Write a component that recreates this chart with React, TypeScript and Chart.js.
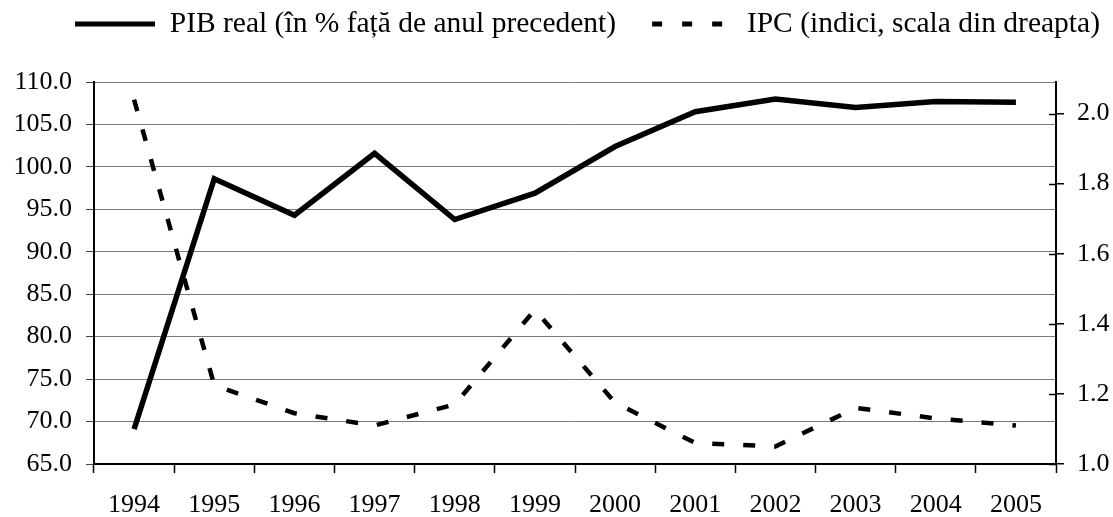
import React, { useEffect, useRef } from 'react';
import { Chart, registerables } from 'chart.js';

Chart.register(...registerables);

const years = ['1994', '1995', '1996', '1997', '1998', '1999', '2000', '2001', '2002', '2003', '2004', '2005'];
const pibReal = [69.1, 98.6, 94.3, 101.6, 93.8, 96.9, 102.4, 106.5, 108.0, 107.0, 107.7, 107.6];
const ipc = [2.04, 1.225, 1.145, 1.11, 1.17, 1.44, 1.175, 1.06, 1.05, 1.16, 1.13, 1.11];
const pibLabel = 'PIB real (în % față de anul precedent)';
const ipcLabel = 'IPC (indici, scala din dreapta)';
const leftAxisRange = [65, 110, 5];
const rightAxisRange = [1.0, 2.09, 0.2];
const rightAxisLastTick = 2.0;

const FONT = "'Liberation Serif', 'Times New Roman', serif";
const W = 1113;
const H = 517;
const LEGEND_FONT = 29.5;
const PLOT_TOP = 82;

const legendShift = {
  id: 'legendShift',
  afterLayout(chart: any) {
    const lg = chart.legend;
    if (!lg) return;
    const pad = lg.options.labels.padding;
    lg.left = 75 - pad;
    lg.right = lg.left + lg.width;
    lg.top = 24 - LEGEND_FONT / 2 - pad;
    lg.bottom = lg.top + lg.height;
  },
};

const innerTicks = {
  id: 'innerTicks',
  afterDraw(chart: any) {
    const s = chart.scales.y1;
    if (!s) return;
    const ctx = chart.ctx;
    ctx.save();
    ctx.strokeStyle = '#000';
    ctx.lineWidth = 1.5;
    ctx.beginPath();
    s.ticks.forEach((t: any) => {
      const y = Math.round(s.getPixelForValue(t.value)) + 0.5;
      ctx.moveTo(s.left - 7, y);
      ctx.lineTo(s.left, y);
    });
    ctx.stroke();
    ctx.restore();
  },
};

export default function App() {
  const ref = useRef<HTMLCanvasElement>(null);

  useEffect(() => {
    const font = { family: FONT, size: 26 };
    // legend natural height (horizontal): padding + itemHeight + 10
    const legendPad = 36;
    const legendHeight = legendPad + LEGEND_FONT + 10;
    const chart = new Chart(ref.current as HTMLCanvasElement, {
      type: 'line',
      data: {
        labels: years,
        datasets: [
          {
            label: pibLabel,
            data: pibReal,
            yAxisID: 'y',
            borderColor: '#000',
            backgroundColor: '#000',
            borderWidth: 5.5,
            pointRadius: 0,
            tension: 0,
            borderJoinStyle: 'miter',
            fill: false,
          },
          {
            label: ipcLabel,
            data: ipc,
            yAxisID: 'y1',
            borderColor: '#000',
            backgroundColor: '#000',
            borderWidth: 4.5,
            borderDash: [12, 19],
            borderCapStyle: 'butt',
            pointRadius: 0,
            tension: 0,
            fill: false,
          },
        ],
      },
      options: {
        responsive: false,
        animation: false,
        devicePixelRatio: 1,
        layout: { padding: { top: PLOT_TOP - legendHeight, left: 0, right: 0, bottom: 0 } },
        plugins: {
          tooltip: { enabled: false },
          legend: {
            display: true,
            position: 'top',
            align: 'start',
            labels: {
              font: { family: FONT, size: LEGEND_FONT },
              color: '#000',
              padding: legendPad,
              usePointStyle: true,
              pointStyle: 'line',
              pointStyleWidth: 80,
              generateLabels: (c: any) => {
                const items = (Chart.defaults.plugins.legend.labels as any).generateLabels(c);
                items.forEach((it: any, i: number) => {
                  it.pointStyle = 'line';
                  it.strokeStyle = '#000';
                  it.fontColor = '#000';
                  it.lineWidth = 5;
                  it.lineCap = 'butt';
                  it.lineDash = i === 0 ? [] : [10, 20];
                  it.lineDashOffset = 0;
                });
                return items;
              },
            },
          },
        },
        scales: {
          x: {
            type: 'category',
            offset: true,
            grid: {
              offset: true,
              drawOnChartArea: false,
              drawTicks: true,
              tickLength: 9,
              tickColor: '#000',
              tickWidth: 1.5,
            },
            border: { display: true, color: '#000', width: 2 },
            ticks: { font, color: '#000', padding: 17, maxRotation: 0, autoSkip: false },
            afterFit: (s: any) => {
              s.height = H - 464;
            },
          },
          y: {
            type: 'linear',
            position: 'left',
            min: leftAxisRange[0],
            max: leftAxisRange[1],
            grid: {
              color: '#7a7a7a',
              lineWidth: 1,
              tickLength: 8,
              tickColor: '#444',
            },
            border: { display: true, color: '#000', width: 2 },
            ticks: {
              stepSize: leftAxisRange[2],
              font,
              color: '#000',
              padding: 14,
              callback: (v: any) => Number(v).toFixed(1),
            },
            afterFit: (s: any) => {
              s.width = 94;
            },
          },
          y1: {
            type: 'linear',
            position: 'right',
            min: rightAxisRange[0],
            max: rightAxisRange[1],
            grid: {
              drawOnChartArea: false,
              tickLength: 8,
              tickColor: '#000',
              lineWidth: 1.5,
            },
            border: { display: true, color: '#000', width: 2 },
            ticks: {
              stepSize: rightAxisRange[2],
              font,
              color: '#000',
              padding: 13,
              callback: (v: any) => Number(v).toFixed(1),
            },
            afterBuildTicks: (s: any) => {
              s.ticks = s.ticks.filter((t: any) => t.value <= rightAxisLastTick + 1e-6);
            },
            afterFit: (s: any) => {
              s.width = W - 1056;
            },
          },
        },
      } as any,
      plugins: [legendShift, innerTicks],
    });
    return () => chart.destroy();
  }, []);

  return (
    <div style={{ position: 'absolute', left: 0, top: 0, width: W, height: H, background: '#fff' }}>
      <canvas ref={ref} width={W} height={H} style={{ display: 'block' }} />
    </div>
  );
}
